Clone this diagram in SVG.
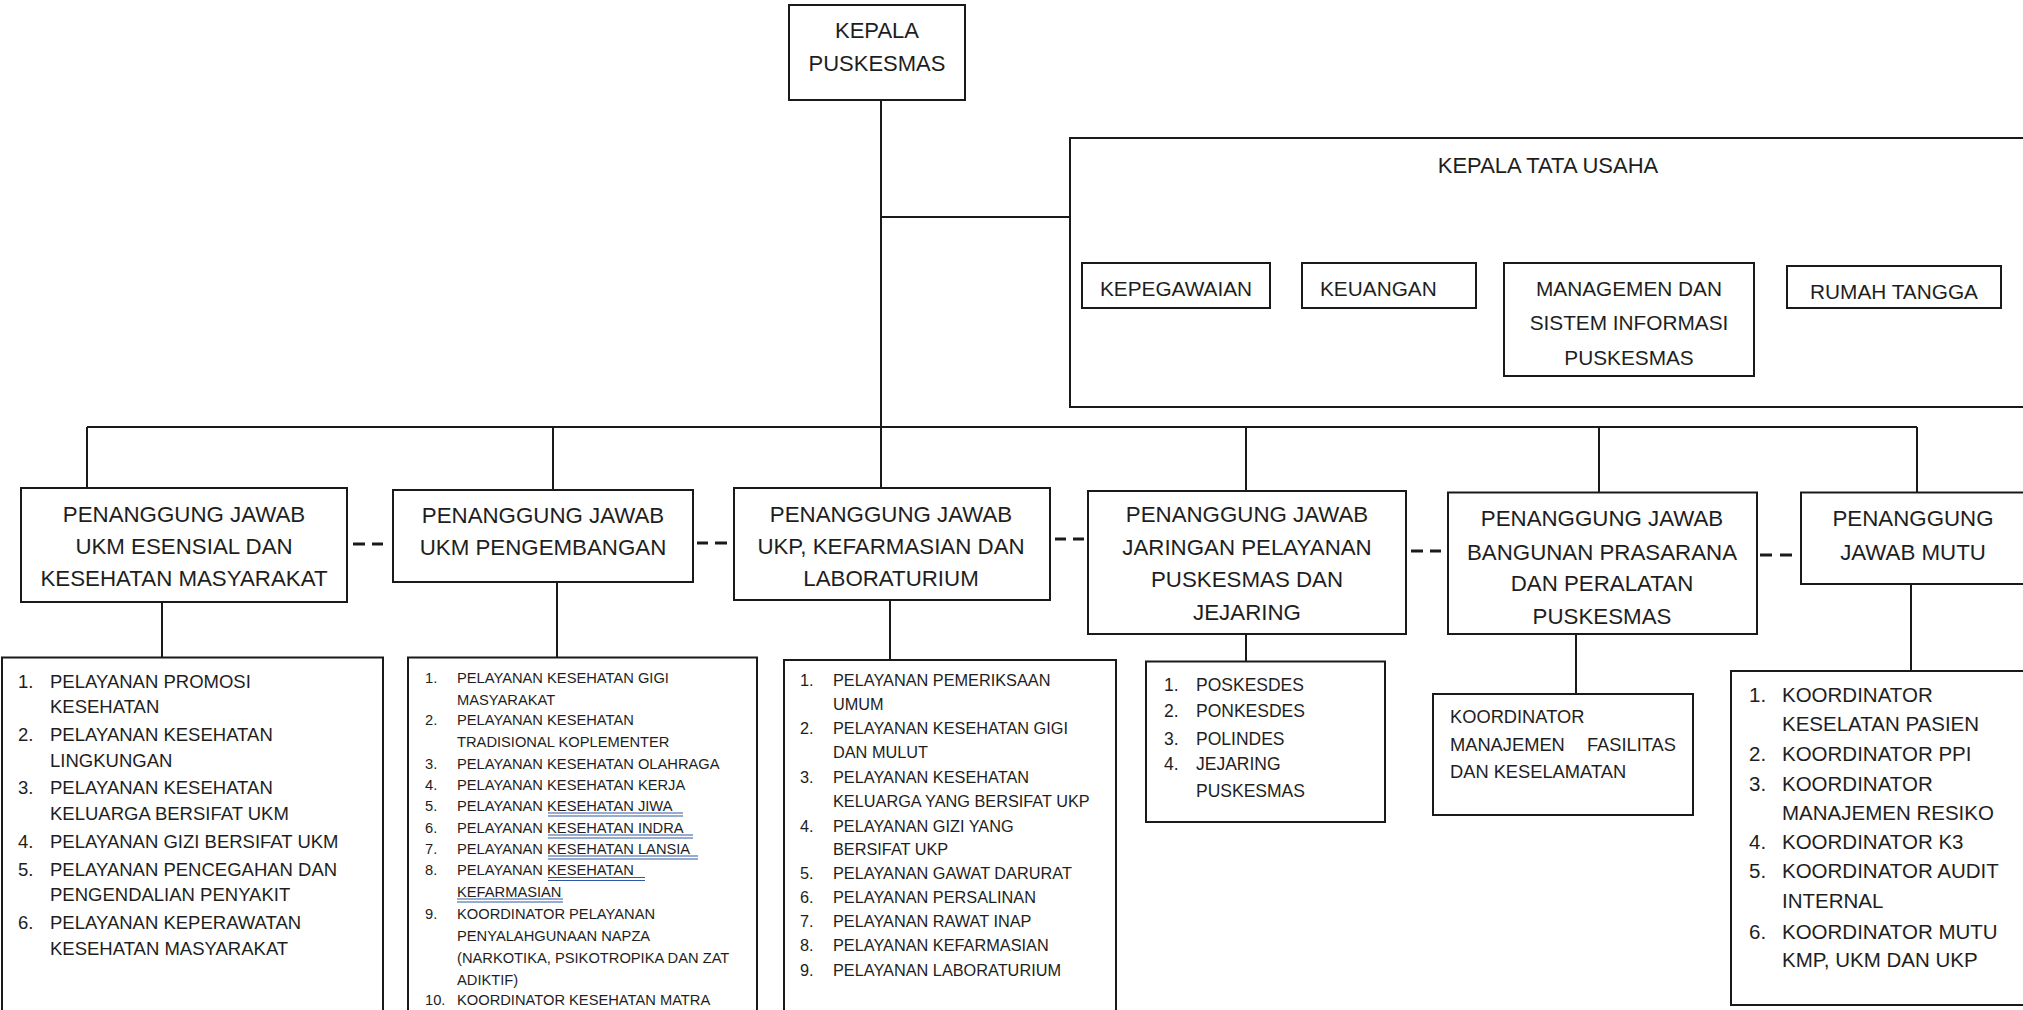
<svg xmlns="http://www.w3.org/2000/svg" width="2023" height="1010" viewBox="0 0 2023 1010">
<style>
  .bx{fill:#fff;stroke:#1a1a1a;stroke-width:2}
  .ln{fill:none;stroke:#1a1a1a;stroke-width:2}
  .ds{fill:none;stroke:#1a1a1a;stroke-width:3}
  text{font-family:"Liberation Sans",Arial,sans-serif;fill:#1e1e1e}
  .h{font-size:22.3px;text-anchor:middle}
  .k{font-size:22px;text-anchor:middle}
  .s{font-size:20.8px}
  .l1{font-size:18.5px}
  .l2{font-size:14.7px}
  .l3{font-size:16.3px}
  .l4{font-size:17.5px}
  .l5{font-size:18.3px}
  .l6{font-size:20.5px}
  .ul{fill:none;stroke:#2e58a6;stroke-width:1.2}
</style>
<rect width="2023" height="1010" fill="#fff"/>
<g id="connectors">
  <path class="ln" d="M881 100V427M881 217H1070M87 427H1917M87 427V488M553 427V490M881 427V488M1246 427V491M1599 427V492M1917 427V493"/>
  <path class="ln" d="M1552 180V212M1123 212H1984M1123 212V263M1378 212V263M1628 212V263M1984 212V266"/>
  <path class="ln" d="M162 602V657M557 582V657M890 600V660M1246 634V661M1576 634V694M1911 584V671"/>
  <path class="ds" d="M353 544H365M372 544H383M697 543H708M715 543H727M1055 539H1066M1073 539H1084M1411 551H1423M1430 551H1441M1760 555H1772M1780 555H1792"/>
</g>
<g id="kepala-puskesmas">
  <rect class="bx" x="789" y="5" width="176" height="95"/>
  <text class="k" x="877" y="38">KEPALA</text>
  <text class="k" x="877" y="71">PUSKESMAS</text>
</g>
<g id="tata-usaha">
  <rect class="bx" x="1070" y="138" width="965" height="269"/>
  <text class="k" x="1548" y="173">KEPALA TATA USAHA</text>
</g>
<g id="kepegawaian">
  <rect class="bx" x="1082" y="263" width="188" height="45"/>
  <text class="s" x="1176" y="296" text-anchor="middle">KEPEGAWAIAN</text>
</g>
<g id="keuangan">
  <rect class="bx" x="1302" y="263" width="174" height="45"/>
  <text class="s" x="1320" y="296">KEUANGAN</text>
</g>
<g id="managemen">
  <rect class="bx" x="1504" y="263" width="250" height="113"/>
  <text class="s" x="1629" y="295.5" text-anchor="middle">MANAGEMEN DAN</text>
  <text class="s" x="1629" y="329.5" text-anchor="middle">SISTEM INFORMASI</text>
  <text class="s" x="1629" y="364.5" text-anchor="middle">PUSKESMAS</text>
</g>
<g id="rumah-tangga">
  <rect class="bx" x="1787" y="266" width="214" height="42"/>
  <text class="s" x="1894" y="298.5" text-anchor="middle">RUMAH TANGGA</text>
</g>
<g id="pj-ukm-esensial">
  <rect class="bx" x="21" y="488" width="326" height="114"/>
  <text class="h" x="184" y="522">PENANGGUNG JAWAB</text>
  <text class="h" x="184" y="554">UKM ESENSIAL DAN</text>
  <text class="h" x="184" y="586">KESEHATAN MASYARAKAT</text>
</g>
<g id="pj-ukm-pengembangan">
  <rect class="bx" x="393" y="490" width="300" height="92"/>
  <text class="h" x="543" y="523">PENANGGUNG JAWAB</text>
  <text class="h" x="543" y="555">UKM PENGEMBANGAN</text>
</g>
<g id="pj-ukp">
  <rect class="bx" x="734" y="488" width="316" height="112"/>
  <text class="h" x="891" y="522">PENANGGUNG JAWAB</text>
  <text class="h" x="891" y="554">UKP, KEFARMASIAN DAN</text>
  <text class="h" x="891" y="585.5">LABORATURIUM</text>
</g>
<g id="pj-jaringan">
  <rect class="bx" x="1088" y="491" width="318" height="143"/>
  <text class="h" x="1247" y="522">PENANGGUNG JAWAB</text>
  <text class="h" x="1247" y="555">JARINGAN PELAYANAN</text>
  <text class="h" x="1247" y="587">PUSKESMAS DAN</text>
  <text class="h" x="1247" y="620">JEJARING</text>
</g>
<g id="pj-bangunan">
  <rect class="bx" x="1448" y="492.5" width="309" height="141.5"/>
  <text class="h" x="1602" y="526">PENANGGUNG JAWAB</text>
  <text class="h" x="1602" y="560">BANGUNAN PRASARANA</text>
  <text class="h" x="1602" y="590.5">DAN PERALATAN</text>
  <text class="h" x="1602" y="624">PUSKESMAS</text>
</g>
<g id="pj-mutu">
  <rect class="bx" x="1801" y="492.5" width="235" height="91.5"/>
  <text class="h" x="1913" y="526">PENANGGUNG</text>
  <text class="h" x="1913" y="560">JAWAB MUTU</text>
</g>
<g id="list-ukm-esensial" class="l1">
  <rect class="bx" x="2" y="657.5" width="381" height="370"/>
  <text class="l1" x="18" y="688.4">1.</text><text class="l1" x="50" y="688.4">PELAYANAN PROMOSI</text>
  <text class="l1" x="50" y="713">KESEHATAN</text>
  <text class="l1" x="18" y="741">2.</text><text class="l1" x="50" y="741">PELAYANAN KESEHATAN</text>
  <text class="l1" x="50" y="766.5">LINGKUNGAN</text>
  <text class="l1" x="18" y="794">3.</text><text class="l1" x="50" y="794">PELAYANAN KESEHATAN</text>
  <text class="l1" x="50" y="819.5">KELUARGA BERSIFAT UKM</text>
  <text class="l1" x="18" y="847.5">4.</text><text class="l1" x="50" y="847.5">PELAYANAN GIZI BERSIFAT UKM</text>
  <text class="l1" x="18" y="875.5">5.</text><text class="l1" x="50" y="875.5">PELAYANAN PENCEGAHAN DAN</text>
  <text class="l1" x="50" y="900.5">PENGENDALIAN PENYAKIT</text>
  <text class="l1" x="18" y="929">6.</text><text class="l1" x="50" y="929">PELAYANAN KEPERAWATAN</text>
  <text class="l1" x="50" y="955">KESEHATAN MASYARAKAT</text>
</g>
<g id="list-ukm-pengembangan">
  <rect class="bx" x="408" y="657.5" width="349" height="370"/>
  <text class="l2" x="425" y="682.6">1.</text><text class="l2" x="457" y="682.6">PELAYANAN KESEHATAN GIGI</text>
  <text class="l2" x="457" y="704.6">MASYARAKAT</text>
  <text class="l2" x="425" y="725.3">2.</text><text class="l2" x="457" y="725.3">PELAYANAN KESEHATAN</text>
  <text class="l2" x="457" y="747">TRADISIONAL KOPLEMENTER</text>
  <text class="l2" x="425" y="769.3">3.</text><text class="l2" x="457" y="769.3">PELAYANAN KESEHATAN OLAHRAGA</text>
  <text class="l2" x="425" y="789.6">4.</text><text class="l2" x="457" y="789.6">PELAYANAN KESEHATAN KERJA</text>
  <text class="l2" x="425" y="811">5.</text><text class="l2" x="457" y="811">PELAYANAN KESEHATAN  JIWA</text>
  <text class="l2" x="425" y="833">6.</text><text class="l2" x="457" y="833">PELAYANAN KESEHATAN  INDRA</text>
  <text class="l2" x="425" y="854.3">7.</text><text class="l2" x="457" y="854.3">PELAYANAN KESEHATAN  LANSIA</text>
  <text class="l2" x="425" y="875.3">8.</text><text class="l2" x="457" y="875.3">PELAYANAN KESEHATAN</text>
  <text class="l2" x="457" y="897">KEFARMASIAN</text>
  <text class="l2" x="425" y="918.6">9.</text><text class="l2" x="457" y="918.6">KOORDINATOR PELAYANAN</text>
  <text class="l2" x="457" y="941.3">PENYALAHGUNAAN NAPZA</text>
  <text class="l2" x="457" y="962.6">(NARKOTIKA, PSIKOTROPIKA DAN ZAT</text>
  <text class="l2" x="457" y="984.6">ADIKTIF)</text>
  <text class="l2" x="425" y="1004.6">10.</text><text class="l2" x="457" y="1004.6">KOORDINATOR KESEHATAN MATRA</text>
  <path class="ul" d="M548 813H683M548 816H683M548 835H693M548 838H693M548 856H698M548 859H698M548 877.5H645M548 880.5H645M457 899H563M457 902H563"/>
</g>
<g id="list-ukp">
  <rect class="bx" x="784" y="660" width="332" height="370"/>
  <text class="l3" x="800" y="686">1.</text><text class="l3" x="833" y="686">PELAYANAN PEMERIKSAAN</text>
  <text class="l3" x="833" y="709.6">UMUM</text>
  <text class="l3" x="800" y="734.3">2.</text><text class="l3" x="833" y="734.3">PELAYANAN KESEHATAN GIGI</text>
  <text class="l3" x="833" y="758">DAN MULUT</text>
  <text class="l3" x="800" y="783.3">3.</text><text class="l3" x="833" y="783.3">PELAYANAN KESEHATAN</text>
  <text class="l3" x="833" y="807">KELUARGA YANG BERSIFAT UKP</text>
  <text class="l3" x="800" y="831.6">4.</text><text class="l3" x="833" y="831.6">PELAYANAN GIZI YANG</text>
  <text class="l3" x="833" y="855">BERSIFAT UKP</text>
  <text class="l3" x="800" y="879">5.</text><text class="l3" x="833" y="879">PELAYANAN GAWAT DARURAT</text>
  <text class="l3" x="800" y="903.3">6.</text><text class="l3" x="833" y="903.3">PELAYANAN PERSALINAN</text>
  <text class="l3" x="800" y="927">7.</text><text class="l3" x="833" y="927">PELAYANAN RAWAT INAP</text>
  <text class="l3" x="800" y="950.6">8.</text><text class="l3" x="833" y="950.6">PELAYANAN KEFARMASIAN</text>
  <text class="l3" x="800" y="976">9.</text><text class="l3" x="833" y="976">PELAYANAN LABORATURIUM</text>
</g>
<g id="list-jaringan">
  <rect class="bx" x="1146" y="661.5" width="239" height="160.5"/>
  <text class="l4" x="1164" y="690.8">1.</text><text class="l4" x="1196" y="690.8">POSKESDES</text>
  <text class="l4" x="1164" y="717.2">2.</text><text class="l4" x="1196" y="717.2">PONKESDES</text>
  <text class="l4" x="1164" y="745">3.</text><text class="l4" x="1196" y="745">POLINDES</text>
  <text class="l4" x="1164" y="770.3">4.</text><text class="l4" x="1196" y="770.3">JEJARING</text>
  <text class="l4" x="1196" y="797.3">PUSKESMAS</text>
</g>
<g id="list-bangunan">
  <rect class="bx" x="1433" y="694" width="260" height="121"/>
  <text class="l5" x="1450" y="723">KOORDINATOR</text>
  <text class="l5" x="1450" y="751">MANAJEMEN<tspan x="1676" text-anchor="end">FASILITAS</tspan></text>
  <text class="l5" x="1450" y="778">DAN KESELAMATAN</text>
</g>
<g id="list-mutu">
  <rect class="bx" x="1731" y="671" width="305" height="334"/>
  <text class="l6" x="1749" y="702">1.</text><text class="l6" x="1782" y="702">KOORDINATOR</text>
  <text class="l6" x="1782" y="730.7">KESELATAN PASIEN</text>
  <text class="l6" x="1749" y="760.5">2.</text><text class="l6" x="1782" y="760.5">KOORDINATOR PPI</text>
  <text class="l6" x="1749" y="790.6">3.</text><text class="l6" x="1782" y="790.6">KOORDINATOR</text>
  <text class="l6" x="1782" y="819.6">MANAJEMEN RESIKO</text>
  <text class="l6" x="1749" y="849">4.</text><text class="l6" x="1782" y="849">KOORDINATOR K3</text>
  <text class="l6" x="1749" y="878.4">5.</text><text class="l6" x="1782" y="878.4">KOORDINATOR AUDIT</text>
  <text class="l6" x="1782" y="908.2">INTERNAL</text>
  <text class="l6" x="1749" y="938.6">6.</text><text class="l6" x="1782" y="938.6">KOORDINATOR MUTU</text>
  <text class="l6" x="1782" y="967.4">KMP, UKM DAN UKP</text>
</g>
</svg>
